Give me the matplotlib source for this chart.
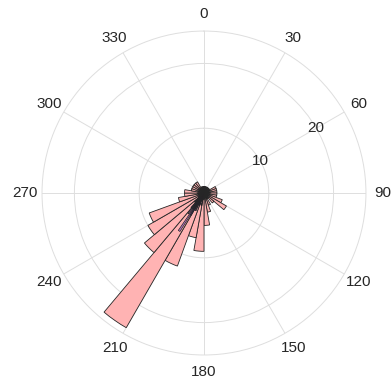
import numpy as np
import matplotlib
matplotlib.use('Agg')
import matplotlib.pyplot as plt

plt.rcParams['font.family'] = ['Liberation Sans', 'DejaVu Sans']

# main histogram: 10 degree bins starting at 0
bin_left = np.arange(0, 360, 10)
counts = [1, 1, 1, 1, 1, 1, 2, 2, 2, 2,
          2, 3, 4, 2, 1, 2, 3, 5, 9, 7,
          12, 24, 12, 10, 9, 4, 3, 3, 2, 2,
          2, 2, 2, 1, 1, 1]

# second histogram with narrow 2 degree bins
narrow_left = [0, 14, 30, 46, 64, 82, 100, 118, 136, 152, 170, 184, 190,
               196, 198, 200, 202, 204, 206, 208, 210, 212, 214, 216, 218,
               220, 222, 224, 226, 228, 236, 250, 266, 282, 300, 318, 336, 350]
narrow_counts = [1, 1, 1, 1, 1, 1, 1, 1, 1, 1, 1, 1, 2,
                 1, 2, 1, 2, 3, 2, 3, 4, 7, 3, 4, 2,
                 3, 2, 1, 2, 1, 1, 1, 1, 1, 1, 1, 1, 1]

theta_ticks = np.arange(0, 360, 30)
r_ticks = [10, 20]
r_max = 25

fig = plt.figure(figsize=(3.91, 3.82), dpi=100)
ax = fig.add_axes([0.1074, 0.0707, 0.8286, 0.848], projection='polar')
ax.set_theta_zero_location('N')
ax.set_theta_direction(-1)
ax.set_axisbelow(True)

ax.bar(np.deg2rad(bin_left), counts, width=np.deg2rad(10), align='edge',
       color=(1, 0.7, 0.7), edgecolor='#262626', linewidth=0.6)
ax.bar(np.deg2rad(narrow_left), narrow_counts, width=np.deg2rad(2.5), align='edge',
       color=(0.25, 0.1, 0.85, 0.4), edgecolor='#262626', linewidth=0.5)

ax.set_ylim(0, r_max)
ax.set_xticks(np.deg2rad(theta_ticks))
ax.set_xticklabels([str(t) for t in theta_ticks], fontsize=11, color='#262626')
ax.xaxis.set_tick_params(pad=1.5)
ax.set_yticks(r_ticks)
ax.set_yticklabels([])
for r in r_ticks:
    ax.text(np.deg2rad(60), r, str(r), ha='center', va='center',
            fontsize=11, color='#262626')
ax.grid(True, color='#dedede', linewidth=0.7)
ax.spines['polar'].set_color('#dedede')
ax.spines['polar'].set_linewidth(0.7)

fig.savefig('out.png', dpi=100)
